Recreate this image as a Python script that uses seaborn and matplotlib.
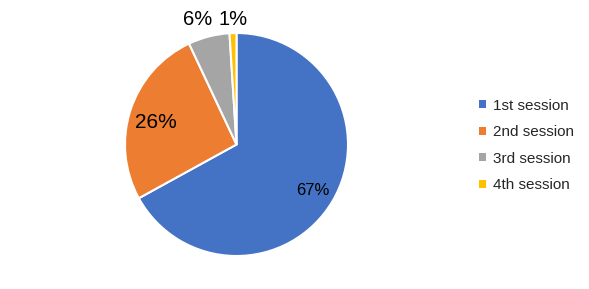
import matplotlib
matplotlib.use("Agg")
import matplotlib.pyplot as plt
import seaborn as sns
import numpy as np

categories = ["1st session", "2nd session", "3rd session", "4th session"]
values = [67, 26, 6, 1]
colors = ["#4472C4", "#ED7D31", "#A5A5A5", "#FFC000"]

sns.set_theme(style="white")
plt.rcParams['font.family'] = ['Liberation Sans', 'DejaVu Sans']

fig = plt.figure(figsize=(5.89, 2.89), dpi=100)
ax = fig.add_axes([(236.5 - 111.5) / 589, (144.5 - 111.5) / 289, 223 / 589, 223 / 289])

wedges, texts, autotexts = ax.pie(
    values, colors=colors, startangle=90, counterclock=False,
    autopct="%1.0f%%", pctdistance=0.77,
    wedgeprops=dict(edgecolor="white", linewidth=1.5),
)
# label placement (axes data units, pie radius = 1)
label_pos = [(0.68, -0.41), (-0.726, 0.197), (-0.345, 1.12), (-0.035, 1.12)]
label_size = [12, 15, 14.5, 14.5]
for t, p, s in zip(autotexts, label_pos, label_size):
    t.set_position(p)
    t.set_fontsize(s)
    t.set_color("black")
    t.set_clip_on(False)
ax.set_xlim(-1, 1)
ax.set_ylim(-1, 1)
ax.set_aspect("equal")

leg = fig.legend(wedges, categories, loc="center left",
                 bbox_to_anchor=(479 / 589, 1 - 145.5 / 289), frameon=False,
                 fontsize=11, handlelength=0.46, handleheight=0.46,
                 handletextpad=0.45, labelspacing=0.82, borderpad=0, borderaxespad=0)
for h in leg.legend_handles:
    h.set_edgecolor("none")

fig.savefig("out.png", dpi=100)
